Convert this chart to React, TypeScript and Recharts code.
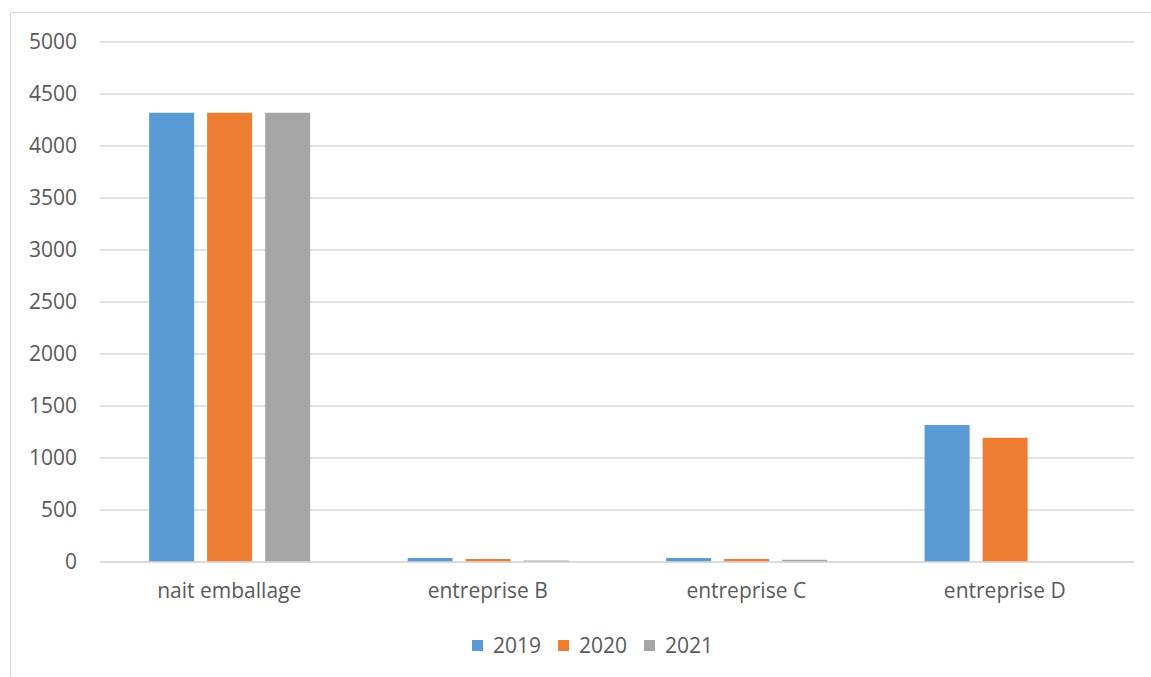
import React from 'react';
import { BarChart, Bar, XAxis, YAxis, CartesianGrid, Legend } from 'recharts';

const companies = ['nait emballage', 'entreprise B', 'entreprise C', 'entreprise D'];
const values2019 = [4320, 38, 38, 1317];
const values2020 = [4320, 29, 29, 1195];
const values2021 = [4320, 15, 22, 0];
const yTicks = [0, 500, 1000, 1500, 2000, 2500, 3000, 3500, 4000, 4500, 5000];

const data = companies.map((name, i) => ({
  name,
  y2019: values2019[i],
  y2020: values2020[i],
  y2021: values2021[i],
}));

const font = '"Open Sans", sans-serif';
const tickStyle = { fill: '#595959', fontSize: 21, fontFamily: font };

const LegendContent = ({ payload }: any) => (
  <div style={{ display: 'flex', justifyContent: 'center', gap: 17, fontFamily: font, fontSize: 21, color: '#595959', lineHeight: '26px', paddingLeft: 40 }}>
    {(payload || []).map((p: any) => (
      <div key={p.value} style={{ display: 'flex', alignItems: 'center' }}>
        <span style={{ width: 11, height: 11, background: p.color, display: 'inline-block', marginRight: 10 }} />
        <span>{p.value}</span>
      </div>
    ))}
  </div>
);

export default function App() {
  return (
    <div
      style={{
        position: 'absolute',
        left: 10,
        top: 12,
        width: 1141,
        height: 664,
        borderLeft: '1px solid #d9d9d9',
        borderTop: '1px solid #d9d9d9',
        background: '#fff',
      }}
    >
      <BarChart
        width={1140}
        height={663}
        data={data}
        margin={{ top: 29, right: 17, bottom: 14, left: 0 }}
        barCategoryGap="19%"
        barGap={13}
      >
        <CartesianGrid vertical={false} stroke="#d9d9d9" strokeWidth={1.5} />
        <XAxis
          dataKey="name"
          axisLine={{ stroke: '#d9d9d9', strokeWidth: 1.5 }}
          tickLine={false}
          tick={tickStyle}
          tickMargin={15}
          height={70}
        />
        <YAxis
          domain={[0, 5000]}
          ticks={yTicks}
          axisLine={false}
          tickLine={false}
          tick={tickStyle}
          tickMargin={17}
          width={89}
          interval={0}
        />
        <Legend height={30} content={<LegendContent />} />
        <Bar dataKey="y2019" name="2019" fill="#5b9bd5" isAnimationActive={false} />
        <Bar dataKey="y2020" name="2020" fill="#ed7d31" isAnimationActive={false} />
        <Bar dataKey="y2021" name="2021" fill="#a5a5a5" isAnimationActive={false} />
      </BarChart>
    </div>
  );
}
